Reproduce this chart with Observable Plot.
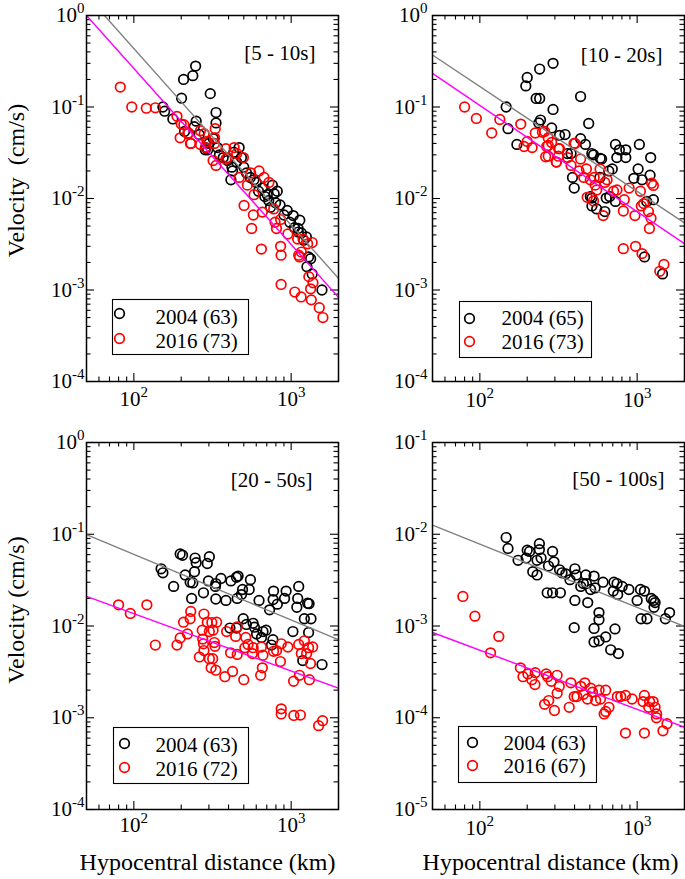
<!DOCTYPE html>
<html><head><meta charset="utf-8">
<script src="https://cdn.jsdelivr.net/npm/d3@7"></script>
<script src="https://cdn.jsdelivr.net/npm/@observablehq/plot@0.6"></script>
<style>
html,body{margin:0;padding:0;background:#fff;overflow:hidden;}
#root{position:relative;width:685px;height:879px;overflow:hidden;background:#fff;}
.panel{position:absolute;}
</style></head><body><div id="root"></div>
<script>
// ---------- DATA: [hypocentral distance (km), velocity (cm/s)] ----------
const p1_2004 = [[247,0.28],[237,0.22],[207,0.20],[201,0.125],[306,0.14],[153,0.10],[157,0.09],[177,0.074],[249,0.070],[242,0.061],[333,0.087],[333,0.067],[210,0.054],[284,0.034],[295,0.034],[340,0.036],[286,0.036],[467,0.036],[432,0.032],[483,0.028],[394,0.026],[424,0.020],[414,0.016],[420,0.022],[580,0.016],[656,0.013],[760,0.014],[816,0.012],[705,0.011],[780,0.0113],[796,0.009],[740,0.008],[944,0.0074],[1030,0.0065],[1135,0.0058],[1107,0.0047],[1110,0.0043],[1250,0.0038],[1290,0.0023],[1260,0.0018],[1360,0.0015],[1570,0.001],[350,0.030],[370,0.028],[450,0.025],[500,0.022],[520,0.019],[550,0.017],[600,0.015],[620,0.012],[680,0.0105],[720,0.0095],[850,0.0085],[900,0.0066],[980,0.0055],[1050,0.0048],[1160,0.0042],[1200,0.0035],[1330,0.0022],[300,0.040],[320,0.045],[260,0.050]];
const p1_2016 = [[82,0.165],[97,0.10],[120,0.097],[137,0.098],[188,0.079],[200,0.065],[208,0.064],[197,0.046],[229,0.040],[231,0.040],[220,0.051],[223,0.052],[265,0.055],[265,0.039],[280,0.051],[329,0.058],[326,0.046],[292,0.042],[285,0.036],[319,0.026],[333,0.023],[385,0.035],[394,0.028],[326,0.040],[385,0.027],[434,0.036],[451,0.031],[497,0.028],[467,0.017],[553,0.019],[625,0.020],[672,0.017],[722,0.015],[527,0.014],[581,0.011],[502,0.0084],[575,0.0066],[656,0.0071],[561,0.0047],[647,0.0028],[807,0.0047],[857,0.0059],[775,0.0077],[790,0.0055],[953,0.0041],[857,0.0030],[863,0.0024],[863,0.00115],[1055,0.00095],[1157,0.00084],[1117,0.0024],[1160,0.0026],[1273,0.0032],[1360,0.0033],[1190,0.0036],[1296,0.0014],[1376,0.0012],[1330,0.00103],[1343,0.00078],[1510,0.00064],[1592,0.0005],[1130,0.0023],[1100,0.0036]];
const p2_2004 = [[292,0.30],[240,0.26],[200,0.21],[196,0.17],[228,0.124],[240,0.124],[292,0.094],[147,0.10],[151,0.058],[172,0.039],[237,0.067],[243,0.072],[286,0.059],[321,0.049],[348,0.05],[437,0.13],[492,0.066],[437,0.045],[469,0.039],[380,0.031],[360,0.031],[388,0.017],[398,0.013],[515,0.031],[582,0.0275],[528,0.030],[594,0.027],[695,0.021],[728,0.039],[771,0.034],[847,0.034],[743,0.028],[847,0.028],[1033,0.039],[1219,0.028],[1014,0.021],[953,0.0166],[1074,0.016],[1208,0.018],[1150,0.0093],[1268,0.0097],[504,0.0105],[516,0.0083],[553,0.0077],[623,0.0072],[636,0.0101],[728,0.0093],[669,0.0105],[516,0.0101],[1114,0.0023],[1450,0.0015],[660,0.020],[580,0.017]];
const p2_2016 = [[80,0.10],[95,0.075],[119,0.052],[134,0.073],[182,0.065],[200,0.042],[191,0.037],[215,0.036],[225,0.052],[258,0.054],[272,0.046],[266,0.037],[286,0.041],[321,0.035],[316,0.029],[272,0.029],[306,0.025],[362,0.028],[397,0.040],[380,0.023],[250,0.053],[272,0.038],[262,0.0286],[307,0.025],[317,0.035],[403,0.040],[437,0.027],[427,0.020],[476,0.021],[458,0.017],[504,0.016],[533,0.017],[581,0.021],[623,0.015],[644,0.016],[541,0.014],[553,0.0124],[481,0.0103],[528,0.0094],[608,0.0065],[708,0.012],[744,0.0124],[828,0.0097],[817,0.0073],[889,0.013],[968,0.0065],[1049,0.012],[1063,0.0083],[1180,0.0072],[1236,0.0147],[1225,0.0061],[1197,0.0047],[1100,0.0088],[817,0.00283],[977,0.0030],[1074,0.0025],[1393,0.0016],[1480,0.0019],[1268,0.0139]];
const p3_2004 = [[197,0.061],[204,0.059],[245,0.055],[249,0.049],[302,0.057],[293,0.048],[149,0.042],[153,0.038],[179,0.027],[212,0.036],[243,0.039],[228,0.030],[237,0.0295],[233,0.020],[277,0.023],[298,0.031],[332,0.029],[330,0.027],[332,0.0197],[385,0.019],[358,0.033],[414,0.031],[449,0.034],[460,0.035],[551,0.032],[491,0.025],[483,0.022],[541,0.025],[454,0.020],[625,0.019],[729,0.015],[773,0.024],[768,0.0194],[817,0.0173],[908,0.020],[929,0.024],[1117,0.027],[1101,0.020],[1087,0.016],[1273,0.0177],[1300,0.0175],[1213,0.012],[1337,0.012],[1291,0.0085],[1026,0.0087],[1571,0.0038],[1185,0.0042],[496,0.012],[449,0.0095],[573,0.0107],[584,0.0097],[603,0.0082],[662,0.0087],[693,0.009],[648,0.0075],[766,0.0071],[750,0.0062],[519,0.0104],[408,0.0095]];
const p3_2016 = [[80,0.017],[95,0.0137],[121,0.017],[137,0.0062],[188,0.0062],[197,0.0074],[219,0.0082],[207,0.011],[228,0.012],[230,0.0144],[261,0.0046],[277,0.0064],[274,0.0072],[272,0.009],[279,0.0135],[293,0.011],[302,0.0087],[313,0.0109],[336,0.011],[319,0.009],[279,0.0054],[302,0.0044],[317,0.0044],[328,0.006],[325,0.0066],[310,0.0035],[332,0.0033],[379,0.0028],[424,0.0032],[412,0.0051],[389,0.0087],[454,0.0049],[454,0.0098],[444,0.0077],[515,0.0075],[532,0.0063],[508,0.0058],[573,0.0058],[567,0.005],[647,0.0059],[662,0.0048],[656,0.0035],[640,0.0029],[773,0.0053],[808,0.0054],[865,0.0064],[855,0.0041],[953,0.0059],[1036,0.0025],[1129,0.0029],[1117,0.0063],[1213,0.0069],[1160,0.005],[1255,0.005],[1291,0.0058],[1370,0.0059],[1327,0.0039],[1306,0.0026],[865,0.00125],[865,0.0011],[1040,0.00106],[1145,0.00107],[1495,0.00082],[1585,0.00093],[500,0.0026]];
const p4_2004 = [[147,0.0092],[151,0.0070],[175,0.0052],[197,0.0055],[200,0.0067],[207,0.0065],[239,0.0079],[239,0.0068],[231,0.0052],[245,0.0055],[217,0.0039],[231,0.0036],[290,0.0065],[296,0.005],[273,0.0045],[321,0.0041],[333,0.0038],[352,0.0037],[374,0.0032],[402,0.0042],[411,0.0036],[472,0.0036],[532,0.0035],[455,0.0029],[476,0.0029],[438,0.0027],[540,0.0026],[506,0.0025],[485,0.0018],[402,0.0019],[268,0.0023],[290,0.0023],[325,0.0023],[398,0.00096],[607,0.0030],[572,0.0014],[572,0.00117],[532,0.00094],[532,0.00067],[572,0.00069],[631,0.00076],[679,0.00055],[723,0.00093],[759,0.0005],[712,0.003],[745,0.0029],[803,0.0027],[752,0.0022],[705,0.0024],[886,0.0025],[1000,0.0019],[1050,0.0025],[1112,0.0024],[1059,0.0012],[1155,0.0012],[1230,0.002],[1273,0.0019],[1280,0.0016],[1300,0.0018],[1511,0.0012],[1607,0.0014]];
const p4_2016 = [[78,0.0021],[93,0.00128],[132,0.00077],[117,0.00051],[181,0.00035],[188,0.00028],[202,0.0003],[225,0.00031],[214,0.00026],[224,0.00023],[264,0.0003],[270,0.00028],[310,0.00029],[284,0.00025],[320,0.00022],[310,0.000185],[274,0.000154],[258,0.00014],[298,0.00012],[370,0.00013],[379,0.00024],[398,0.00017],[414,0.00017],[438,0.00022],[456,0.00018],[483,0.00016],[507,0.00021],[520,0.00019],[545,0.000154],[573,0.0002],[585,0.00016],[631,0.0002],[631,0.000117],[617,0.00011],[662,0.00013],[748,0.00017],[787,0.00017],[843,0.000175],[929,0.00016],[843,0.000068],[1112,0.000175],[1090,0.00015],[1200,0.00015],[1185,0.00013],[1263,0.00015],[1300,0.00013],[1326,0.0001],[1330,0.00011],[1112,0.000068],[1459,0.000072],[1548,0.000086],[465,0.00024]];

// fitted power-law lines (end points at 50 km and 2000 km)
const fit1_2004 = [[50,1.66],[2000,1.34e-3]];
const fit1_2016 = [[50,1.0],[2000,8.3e-4]];
const fit2_2004 = [[50,0.37],[2000,5.4e-3]];
const fit2_2016 = [[50,0.233],[2000,3.2e-3]];
const fit3_2004 = [[50,0.099],[2000,7.1e-3]];
const fit3_2016 = [[50,0.021],[2000,2.1e-3]];
const fit4_2004 = [[50,1.26e-2],[2000,9.9e-4]];
const fit4_2016 = [[50,8.5e-4],[2000,7.9e-5]];

const periods = ["[5 - 10s]", "[10 - 20s]", "[20 - 50s]", "[50 - 100s]"];
const counts2004 = [63, 65, 63, 63];
const counts2016 = [73, 73, 72, 67];
const yDomains = [[1e-4, 1], [1e-4, 1], [1e-4, 1], [1e-5, 1e-1]];
const xDomain = [50, 2000];
const xMajor = [100, 1000];
const xMinor = [50, 60, 70, 80, 90, 200, 300, 400, 500, 600, 700, 800, 900, 2000];

// ---------- LAYOUT ----------
const layouts = [
  {left: 0,   top: 0,   width: 345, height: 420, mL: 86, mR: 7, mT: 15, mB: 39, yPad: 2, xPad: 10,
   ylabel: "Velocity\u00a0 (cm/s)", ylabelDy: -18, xlabel: null, perDx: -23, perDy: 38,
   box: [112, 299, 248, 354], dotX: 119, dotY: [313, 338], txtX: 155, txtY: [317, 341]},
  {left: 342, top: 0,   width: 343, height: 420, mL: 90, mR: 1, mT: 15, mB: 39, yPad: 5, xPad: 11,
   ylabel: null, xlabel: null, perDx: -22, perDy: 40,
   box: [459, 301, 591, 357], dotX: 469, dotY: [318, 341], txtX: 501, txtY: [318, 342]},
  {left: 0,   top: 420, width: 345, height: 459, mL: 86, mR: 7, mT: 22, mB: 70, yPad: 2, xPad: 8,
   ylabel: "Velocity (cm/s)", ylabelDy: -16, xlabel: "Hypocentral distance (km)", xlabelDx: -5, perDx: -26, perDy: 38,
   box: [113, 727, 248, 783], dotX: 124, dotY: [743, 767], txtX: 155, txtY: [745, 769]},
  {left: 342, top: 420, width: 343, height: 459, mL: 90, mR: 1, mT: 22, mB: 70, yPad: 5, xPad: 11,
   ylabel: null, xlabel: "Hypocentral distance (km)", xlabelDx: -8, perDx: -20, perDy: 37,
   box: [458, 726, 596, 782], dotX: 472, dotY: [742, 765], txtX: 503, txtY: [743, 766]}
];
const data2004 = [p1_2004, p2_2004, p3_2004, p4_2004];
const data2016 = [p1_2016, p2_2016, p3_2016, p4_2016];
const fits2004 = [fit1_2004, fit2_2004, fit3_2004, fit4_2004];
const fits2016 = [fit1_2016, fit2_2016, fit3_2016, fit4_2016];

const FONT = '"Liberation Serif", "Times New Roman", Times, serif';
const root = document.getElementById("root");

layouts.forEach((L, i) => {
  const [ylo, yhi] = yDomains[i].map(v => Math.round(Math.log10(v)));
  const yMajor = d3.range(ylo, yhi + 1).map(k => 10 ** k);
  const yMinor = d3.range(ylo, yhi).flatMap(k => d3.range(2, 10).map(m => m * 10 ** k));
  const iw = L.width - L.mL - L.mR, ih = L.height - L.mT - L.mB;
  const fL = L.left + L.mL, fT = L.top + L.mT, fR = fL + iw, fB = fT + ih;
  const MAJ = 8, MIN = 4.5, tw = 1.1;
  const R = 4.8, SW = 1.7;
  const expFmt = d => String(Math.round(Math.log10(d)));
  const marks = [
    // ticks inward on all four sides
    Plot.tickY(yMajor, {y: d => d, insetRight: iw - MAJ, stroke: "#000", strokeWidth: tw}),
    Plot.tickY(yMajor, {y: d => d, insetLeft: iw - MAJ, stroke: "#000", strokeWidth: tw}),
    Plot.tickY(yMinor, {y: d => d, insetRight: iw - MIN, stroke: "#000", strokeWidth: tw}),
    Plot.tickY(yMinor, {y: d => d, insetLeft: iw - MIN, stroke: "#000", strokeWidth: tw}),
    Plot.tickX(xMajor, {x: d => d, insetTop: ih - MAJ, stroke: "#000", strokeWidth: tw}),
    Plot.tickX(xMajor, {x: d => d, insetBottom: ih - MAJ, stroke: "#000", strokeWidth: tw}),
    Plot.tickX(xMinor, {x: d => d, insetTop: ih - MIN, stroke: "#000", strokeWidth: tw}),
    Plot.tickX(xMinor, {x: d => d, insetBottom: ih - MIN, stroke: "#000", strokeWidth: tw}),
    Plot.axisY({ticks: yMajor, tickSize: 0, tickPadding: L.yPad, tickFormat: expFmt, fontSize: 21, label: null}),
    Plot.axisX({ticks: xMajor, tickSize: 0, tickPadding: L.xPad, tickFormat: expFmt, fontSize: 21, label: null}),
    // data
    Plot.dot(data2004[i], {x: d => d[0], y: d => d[1], r: R, stroke: "#000", strokeWidth: SW, fill: "none", clip: true}),
    Plot.dot(data2016[i], {x: d => d[0], y: d => d[1], r: R, stroke: "#ff0000", strokeWidth: SW, fill: "none", clip: true}),
    Plot.line(fits2004[i], {x: d => d[0], y: d => d[1], stroke: "#808080", strokeWidth: 1.4, clip: true}),
    Plot.line(fits2016[i], {x: d => d[0], y: d => d[1], stroke: "#ff00ff", strokeWidth: 1.4, clip: true}),
    Plot.frame({stroke: "#000", strokeWidth: 1.5}),
    // period label
    Plot.text([periods[i]], {text: d => d, frameAnchor: "top-right", textAnchor: "end", lineAnchor: "middle",
      dx: L.perDx, dy: L.perDy, fontSize: 21, fill: "#000"}),
    // legend
    Plot.frame({insetLeft: L.box[0] - fL, insetTop: L.box[1] - fT, insetRight: fR - L.box[2], insetBottom: fB - L.box[3],
      stroke: "#000", strokeWidth: 1.1, fill: "#fff"}),
    Plot.dot([0], {frameAnchor: "top-left", dx: L.dotX - fL, dy: L.dotY[0] - fT, r: R, stroke: "#000", strokeWidth: SW, fill: "none"}),
    Plot.dot([0], {frameAnchor: "top-left", dx: L.dotX - fL, dy: L.dotY[1] - fT, r: R, stroke: "#ff0000", strokeWidth: SW, fill: "none"}),
    Plot.text([`2004 (${counts2004[i]})`], {text: d => d, frameAnchor: "top-left", textAnchor: "start", lineAnchor: "middle",
      dx: L.txtX - fL, dy: L.txtY[0] - fT, fontSize: 21, fill: "#000"}),
    Plot.text([`2016 (${counts2016[i]})`], {text: d => d, frameAnchor: "top-left", textAnchor: "start", lineAnchor: "middle",
      dx: L.txtX - fL, dy: L.txtY[1] - fT, fontSize: 21, fill: "#000"})
  ];
  if (L.ylabel) marks.push(Plot.text([L.ylabel], {text: d => d, frameAnchor: "left", rotate: -90, textAnchor: "middle",
    lineAnchor: "middle", dx: 16 - fL, dy: L.ylabelDy, fontSize: 24, fill: "#000"}));
  if (L.xlabel) marks.push(Plot.text([L.xlabel], {text: d => d, frameAnchor: "bottom", textAnchor: "middle",
    lineAnchor: "middle", dx: L.xlabelDx, dy: 53, fontSize: 24, fill: "#000"}));

  const svg = Plot.plot({
    width: L.width, height: L.height,
    marginLeft: L.mL, marginRight: L.mR, marginTop: L.mT, marginBottom: L.mB,
    x: {type: "log", domain: xDomain},
    y: {type: "log", domain: yDomains[i]},
    style: {fontFamily: FONT, fontSize: "20px", background: "transparent", overflow: "visible", color: "#000"},
    marks
  });
  // superscript exponents on the tick labels: 10^k
  d3.select(svg).selectAll('g[aria-label="y-axis tick label"] text, g[aria-label="x-axis tick label"] text').each(function () {
    const e = this.textContent;
    this.textContent = "10";
    const t = document.createElementNS("http://www.w3.org/2000/svg", "tspan");
    t.setAttribute("dy", "-0.6em");
    t.setAttribute("font-size", "15");
    t.textContent = e;
    this.appendChild(t);
  });
  const div = document.createElement("div");
  div.className = "panel";
  div.style.left = L.left + "px";
  div.style.top = L.top + "px";
  div.appendChild(svg);
  root.appendChild(div);
});
</script></body></html>
